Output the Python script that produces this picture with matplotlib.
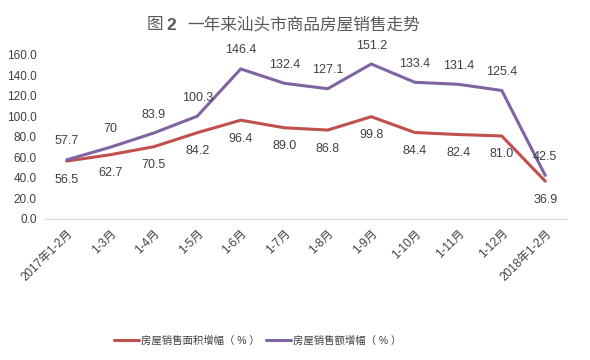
import matplotlib
matplotlib.use("Agg")
import matplotlib.pyplot as plt

plt.rcParams['font.family'] = ['Liberation Sans', 'Noto Sans CJK SC', 'DejaVu Sans']

categories = ["2017年1-2月", "1-3月", "1-4月", "1-5月", "1-6月", "1-7月", "1-8月",
              "1-9月", "1-10月", "1-11月", "1-12月", "2018年1-2月"]
area = [56.5, 62.7, 70.5, 84.2, 96.4, 89.0, 86.8, 99.8, 84.4, 82.4, 81.0, 36.9]
amount = [57.7, 70, 83.9, 100.3, 146.4, 132.4, 127.1, 151.2, 133.4, 131.4, 125.4, 42.5]
area_labels = ["56.5", "62.7", "70.5", "84.2", "96.4", "89.0", "86.8", "99.8", "84.4", "82.4", "81.0", "36.9"]
amount_labels = ["57.7", "70", "83.9", "100.3", "146.4", "132.4", "127.1", "151.2", "133.4", "131.4", "125.4", "42.5"]
yticks = [0, 20, 40, 60, 80, 100, 120, 140, 160]

fig = plt.figure(figsize=(5.9, 3.6), dpi=100)
ax = fig.add_axes([45/590, 1 - 219/360, 522/590, (219-55)/360])

x = list(range(len(categories)))
red = '#C0504D'
purple = '#8064A2'
ax.plot(x, area, color=red, lw=2.2, solid_capstyle='round', label='房屋销售面积增幅（ % ）')
ax.plot(x, amount, color=purple, lw=2.2, solid_capstyle='round', label='房屋销售额增幅（ % ）')

ax.set_xlim(-0.5, len(categories) - 0.5)
ax.set_ylim(0, 160)
ax.set_yticks(yticks)
ax.set_yticklabels([f"{v:.1f}" for v in yticks], fontsize=8.5, color='#404040')
ax.set_xticks(x)
ax.set_xticklabels(categories, rotation=45, ha='right', rotation_mode='anchor', fontsize=8.5, color='#404040')
ax.tick_params(axis='y', length=0, pad=6)
ax.tick_params(axis='x', length=0, pad=6)
for s in ['top', 'right', 'left']:
    ax.spines[s].set_visible(False)
ax.spines['bottom'].set_color('#D9D9D9')

for i in x:
    ax.annotate(amount_labels[i], (i, amount[i]), xytext=(0, 9), textcoords='offset points',
                ha='center', va='bottom', fontsize=9, color='#404040')
    ax.annotate(area_labels[i], (i, area[i]), xytext=(0, -9), textcoords='offset points',
                ha='center', va='top', fontsize=9, color='#404040')

fig.text(147/590, 1 - 25/360, '图', ha='left', va='center',
         fontsize=12, color='#595959')
fig.text(166/590, 1 - 25/360, '2', ha='left', va='center',
         fontsize=12.5, color='#595959', fontweight='bold')
fig.text(187/590, 1 - 25/360, '一年来汕头市商品房屋销售走势', ha='left', va='center',
         fontsize=12, color='#595959')

leg = fig.legend(loc='center', bbox_to_anchor=(258/590, 1 - 340/360), ncol=2, frameon=False,
                 fontsize=7.5, handlelength=2.4, columnspacing=0.6, handletextpad=0.2)
for t in leg.get_texts():
    t.set_color('#404040')

fig.savefig('out.png', dpi=100)
